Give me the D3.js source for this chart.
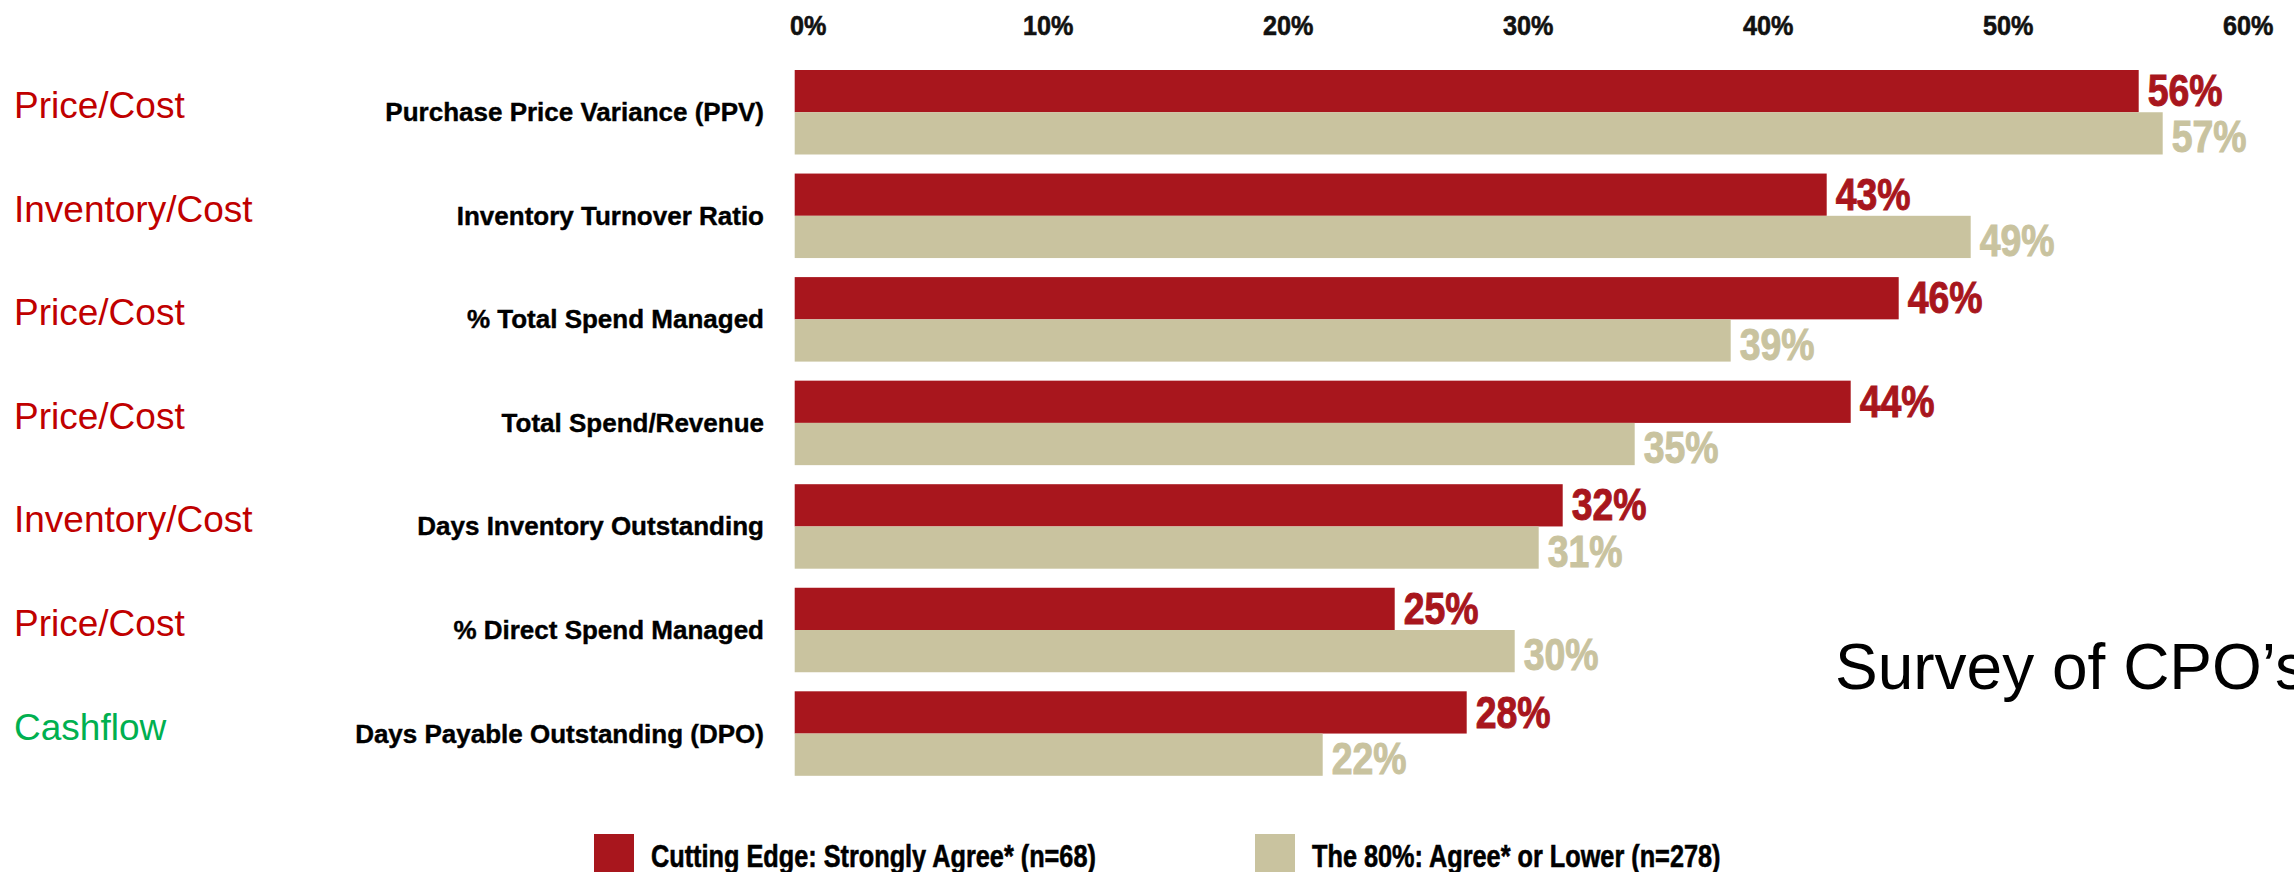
<!DOCTYPE html>
<html>
<head>
<meta charset="utf-8">
<script src="https://cdn.jsdelivr.net/npm/d3@7"></script>
<style>
  html, body { margin: 0; padding: 0; background: #fff; }
  svg { display: block; }
  .heavy { font-family: "Liberation Sans", Arial, sans-serif; font-weight: bold; }
</style>
</head>
<body>
<svg id="chart" width="2294" height="872"></svg>
<script>
// Metrics and survey results (percent of respondents)
const metrics = [
  "Purchase Price Variance (PPV)",
  "Inventory Turnover Ratio",
  "% Total Spend Managed",
  "Total Spend/Revenue",
  "Days Inventory Outstanding",
  "% Direct Spend Managed",
  "Days Payable Outstanding (DPO)"
];
const topics = ["Price/Cost", "Inventory/Cost", "Price/Cost", "Price/Cost", "Inventory/Cost", "Price/Cost", "Cashflow"];
const cuttingEdge = [56, 43, 46, 44, 32, 25, 28];
const theEighty = [57, 49, 39, 35, 31, 30, 22];
const seriesNames = ["Cutting Edge: Strongly Agree* (n=68)", "The 80%: Agree* or Lower (n=278)"];
const tickValues = [0, 10, 20, 30, 40, 50, 60];
const sideNote = "Survey of CPO\u2019s";

const RED = "#A8161D", TAN = "#C9C39F";
const seriesColor = [RED, TAN];
const topicColor = t => t === "Cashflow" ? "#00B050" : "#C00000";

const svg = d3.select("#chart");
svg.append("rect").attr("width", 2294).attr("height", 872).attr("fill", "#fff");

const x = d3.scaleLinear().domain([0, 60]).range([794.7, 2234.7]);
const y = d3.scaleBand().domain(metrics).range([70, 775.8]).paddingInner(0.184).paddingOuter(0);
const ySub = d3.scaleBand().domain([0, 1]).range([0, y.bandwidth()]).padding(0);

// Percent axis along the top (condensed heavy lettering)
const axisSqueeze = 0.9;
const axis = d3.axisTop(x).tickValues(tickValues).tickFormat(d => d + "%").tickSize(0).tickPadding(0);
const gAxis = svg.append("g").attr("transform", "translate(0,35)").call(axis);
gAxis.select(".domain").remove();
gAxis.selectAll("text")
  .attr("class", "heavy")
  .attr("transform", `scale(${axisSqueeze},1)`)
  .attr("dx", 13 / axisSqueeze)
  .attr("dy", 0)
  .style("font-size", "28px")
  .attr("fill", "#111")
  .attr("stroke", "#111")
  .attr("stroke-width", 0.6);

// Metric groups
const rows = metrics.map((m, i) => ({ metric: m, topic: topics[i], values: [cuttingEdge[i], theEighty[i]] }));
const g = svg.append("g").selectAll("g.row").data(rows).join("g")
  .attr("class", "row")
  .attr("transform", d => `translate(0,${y(d.metric)})`);

g.selectAll("rect").data(d => d.values.map((v, s) => ({ v, s }))).join("rect")
  .attr("x", x(0))
  .attr("y", d => ySub(d.s))
  .attr("width", d => x(d.v) - x(0))
  .attr("height", ySub.bandwidth())
  .attr("fill", d => seriesColor[d.s]);

// Value labels just past each bar end
const labelLift = [6, 2];
g.selectAll("text.val").data(d => d.values.map((v, s) => ({ v, s }))).join("text")
  .attr("class", "val heavy")
  .attr("transform", d => `translate(${x(d.v) + 9},${ySub(d.s) + ySub.bandwidth() - labelLift[d.s]}) scale(0.85,1)`)
  .style("font-size", "44px")
  .attr("fill", d => seriesColor[d.s])
  .attr("stroke", d => seriesColor[d.s])
  .attr("stroke-width", 1)
  .text(d => d.v + "%");

// Metric names
g.append("text")
  .attr("class", "heavy")
  .attr("x", 764)
  .attr("y", y.bandwidth() / 2 + 9)
  .attr("text-anchor", "end")
  .style("font-size", "26px")
  .attr("fill", "#000")
  .attr("stroke", "#000")
  .attr("stroke-width", 0.4)
  .text(d => d.metric);

// Topic tags on the far left
g.append("text")
  .attr("x", 14)
  .attr("y", y.bandwidth() / 2 + 6)
  .style("font-family", "'Liberation Sans', Arial, sans-serif")
  .style("font-size", "37px")
  .attr("fill", d => topicColor(d.topic))
  .text(d => d.topic);

// Side note
svg.append("text")
  .attr("x", 1835)
  .attr("y", 689)
  .style("font-family", "'Liberation Sans', Arial, sans-serif")
  .style("font-size", "64px")
  .attr("fill", "#000")
  .text(sideNote);

// Legend
const legendX = [594, 1255];
const lg = svg.append("g").selectAll("g").data(seriesNames).join("g")
  .attr("transform", (d, i) => `translate(${legendX[i]},834)`);
lg.append("rect").attr("width", 40).attr("height", 40).attr("fill", (d, i) => seriesColor[i]);
lg.append("text")
  .attr("class", "heavy")
  .attr("transform", "translate(57,33) scale(0.79,1)")
  .style("font-size", "32px")
  .attr("fill", "#000")
  .attr("stroke", "#000")
  .attr("stroke-width", 0.6)
  .text(d => d);
</script>
</body>
</html>
